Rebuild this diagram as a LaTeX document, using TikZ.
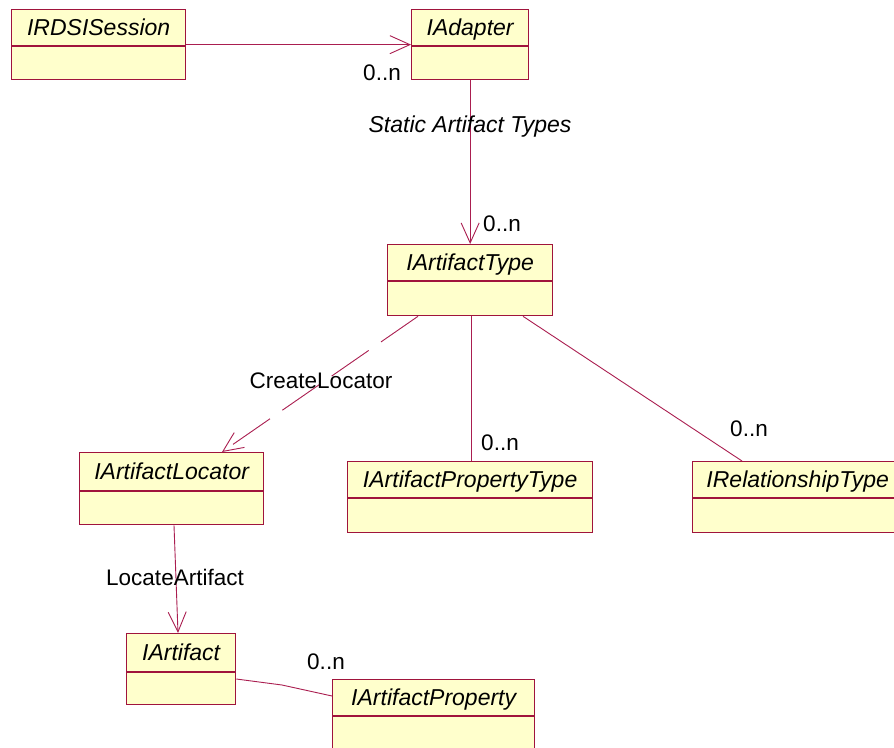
\documentclass[tikz,border=0pt]{standalone}
\usepackage{fontspec}
\setmainfont{Liberation Sans}
\usetikzlibrary{arrows.meta}
\definecolor{boxline}{RGB}{160,20,60}
\definecolor{conline}{RGB}{170,30,80}
\definecolor{boxfill}{RGB}{255,255,204}
\tikzset{
  classbox/.style={draw=boxline, fill=boxfill, line width=1.3pt, inner sep=0pt, anchor=north west},
  divider/.style={draw=boxline, line width=1.1pt},
  classname/.style={font=\fontsize{23}{27}\selectfont\itshape, inner sep=0pt},
  lbl/.style={font=\fontsize{22.5}{26}\selectfont, inner sep=0pt},
  conn/.style={draw=conline, line width=0.9pt},
  openarrow/.style={-{Straight Barb[length=20pt,width=18pt,line width=0.9pt]}},
}
\newcommand\umlclass[7]{%
  \node[classbox, minimum width=#4pt, minimum height=#5pt] (#1) at (#2,#3) {};
  \draw[divider] ([yshift=-#6pt]#1.north west) -- ([yshift=-#6pt]#1.north east);
  \node[classname, anchor=base] (#1-name) at ([yshift=-#6pt/2-8pt]#1.north) {#7};
}
\begin{document}
\begin{tikzpicture}[x=1pt,y=-1pt]
\clip (0,0) rectangle (894,747);
\fill[white] (0,0) rectangle (894,747);

\umlclass{sess}{11}{9}{174}{70}{37}{IRDSISession}
\umlclass{adap}{411}{9}{117}{70}{37}{IAdapter}
\umlclass{atype}{387}{244}{165}{71}{37}{IArtifactType}
\umlclass{loc}{79}{452}{184}{72}{39}{IArtifactLocator}
\umlclass{apt}{347}{461}{245}{71}{37}{IArtifactPropertyType}
\umlclass{rt}{692}{461}{210}{71}{37}{IRelationshipType}
\umlclass{art}{126}{633}{109}{71}{39}{IArtifact}
\umlclass{prop}{332}{679}{202}{90}{37}{IArtifactProperty}

% connectors
\draw[conn, openarrow] (sess.east) -- (adap.west);
\draw[conn, openarrow] (adap.south) -- (atype.north);
\draw[conn, openarrow, dash pattern=on 45pt off 15pt]
  ([xshift=31pt]atype.south west) -- ([xshift=143pt]loc.north west);
\draw[conn, openarrow] ([xshift=95pt]loc.south west) -- ([xshift=52pt]art.north west);
\draw[conn] ([xshift=84pt]atype.south west) -- ([xshift=124pt]apt.north west);
\draw[conn] ([xshift=136pt]atype.south west) -- ([xshift=50pt]rt.north west);
\coordinate (bend) at (282,685);
\draw[conn] ([yshift=-46pt]art.north east) -- (bend) -- ([yshift=-17pt]prop.north west);

% labels
\node[lbl] (m1) at (382,73) {0..n};
\node[classname] (l1) at (470,127) {Static Artifact Types};
\node[lbl] (m2) at (502,224) {0..n};
\node[lbl] (l2) at (321,381) {CreateLocator};
\node[lbl] (m3) at (500,443) {0..n};
\node[lbl] (m4) at (749,429) {0..n};
\node[lbl] (l3) at (175,577) {LocateArtifact};
\node[lbl] (m5) at (326,662) {0..n};
\end{tikzpicture}
\end{document}
